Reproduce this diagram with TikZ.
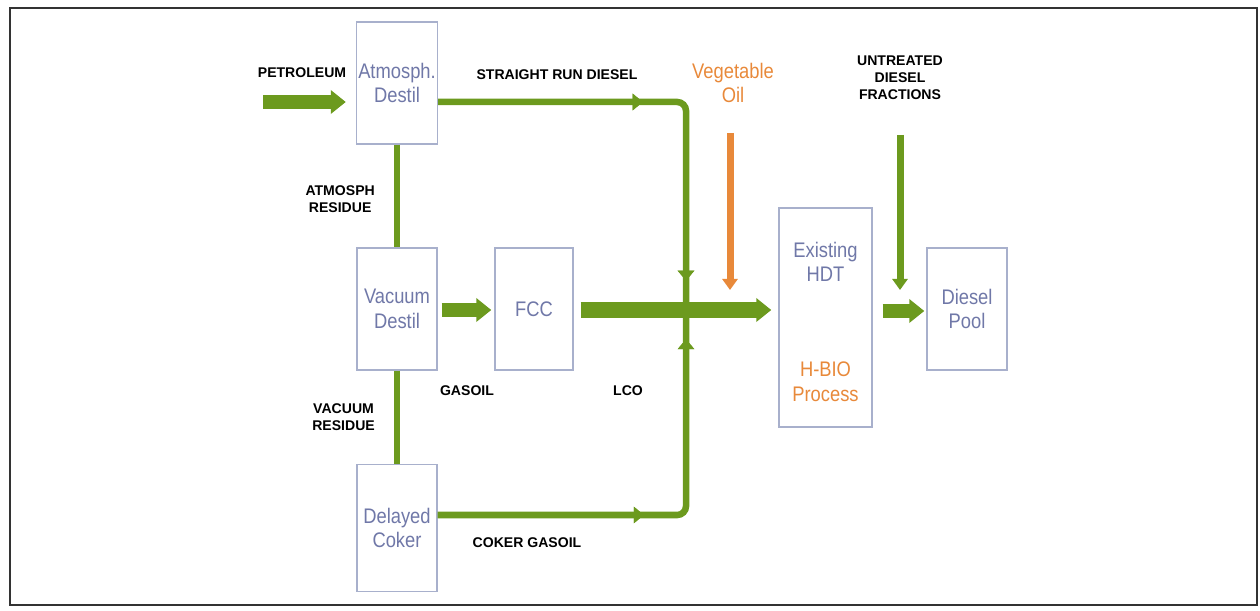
\documentclass[tikz,border=0pt]{standalone}
\usepackage{fontspec}
\setmainfont{Liberation Sans}
\newfontfamily\boxfont[FakeStretch=0.87]{Liberation Sans}
\usepackage{tikz}
\usetikzlibrary{arrows.meta,positioning,calc,decorations.markings}
\definecolor{pipegreen}{RGB}{108,154,30}
\definecolor{bioorange}{RGB}{232,137,58}
\definecolor{unitblue}{RGB}{112,120,168}
\definecolor{unitedge}{RGB}{168,176,204}

\begin{document}
\begin{tikzpicture}[
  unit/.style={draw=unitedge, line width=0.8pt, fill=white,
               minimum width=1.6cm, minimum height=2.44cm,
               inner xsep=1pt, align=center, text=unitblue,
               font=\boxfont\fontsize{12}{14}\selectfont},
  tag/.style={font=\bfseries\fontsize{8}{9.8}\selectfont, align=center},
  fat/.style={pipegreen, line width=0.28cm,
              -{Triangle[length=0.3cm,width=0.46cm]}},
  pipe/.style={pipegreen, line width=0.13cm, rounded corners=5pt},
  midarrow/.style={postaction={decorate}, decoration={markings,
      mark=at position #1 with {\arrow{Triangle[length=0.2cm,width=0.32cm]}}}},
  feed/.style={line width=0.14cm,
               -{Triangle[length=0.22cm,width=0.3cm]}},
]
\useasboundingbox (0,0) rectangle (25.2,-12.22);

%% Frame
\draw[gray!40!black, line width=1.6pt] (0.2,-0.16) rectangle (25.14,-12.1);

%% Process units
\node[unit] (atm)   at (7.94,-1.66)  {Atmosph.\\Destil};
\node[unit] (vac)   at (7.94,-6.18)  {Vacuum\\Destil};
\node[unit, minimum height=2.54cm] (coker) at (7.94,-10.56) {Delayed\\Coker};
\node[unit, minimum width=1.56cm] (fcc) at (10.68,-6.18) {FCC};
\node[unit, minimum width=1.86cm, minimum height=4.38cm] (hdt) at (16.51,-6.35) {};
\node[unit] (hdtT) at (16.51,-5.24) [draw=none, fill=none] {Existing\\HDT};
\node[unit, text=bioorange] (hdtB) at (16.51,-7.64) [draw=none, fill=none] {H-BIO\\Process};
\node[unit] (pool)  at (19.34,-6.18) {Diesel\\Pool};

%% Junction points
\coordinate (jtop)  at (13.72,-2.04);
\coordinate (jmain) at (13.72,-6.2);
\coordinate (jbot)  at (13.72,-10.3);
\coordinate (petin) at (5.26,-2.04);
\coordinate (vegin) at (14.6,-2.66);
\coordinate (untin) at (18.0,-2.7);

%% Residue lines
\draw[pipe] (atm.south) -- (vac.north);
\draw[pipe] (vac.south) -- (coker.north);

%% Side streams into the LCO line
\draw[pipe, midarrow=0.45, midarrow=0.93] (atm.east |- jtop) -- (jtop) -- (jbot |- 0,-6.25);
\draw[pipe, midarrow=0.456, midarrow=0.93] (coker.east |- jbot) -- (jbot) -- (jbot |- 0,-6.15);

%% Main flows
\draw[fat, shorten >=0.2cm] (petin) -- (petin -| atm.west);
\draw[fat, shorten <=0.08cm, shorten >=0.06cm] (vac.east |- 0,-6.2) -- (fcc.west |- 0,-6.2);
\draw[fat, line width=0.31cm, shorten <=0.14cm, shorten >=0.14cm] (fcc.east |- jmain) -- (hdt.west |- jmain);
\draw[fat, shorten <=0.2cm, shorten >=0.04cm] (hdt.east |- 0,-6.22) -- (pool.west |- 0,-6.22);

%% Feeds from above
\draw[feed, bioorange] (vegin) -- (vegin |- 0,-5.8);
\draw[feed, pipegreen] (untin) -- (untin |- 0,-5.8);

%% Stream labels
\node[tag] (lpet) at (6.04,-1.46)  {PETROLEUM};
\node[tag] (lsrd) at (11.14,-1.5)  {STRAIGHT RUN DIESEL};
\node[tag, anchor=east] (lar) at (7.62,-3.98) {ATMOSPH\\RESIDUE};
\node[tag, anchor=east] (lvr) at (7.62,-8.34) {VACUUM\\RESIDUE};
\node[tag] (lgo)  at (9.34,-7.82)  {GASOIL};
\node[tag] (llco) at (12.56,-7.82) {LCO};
\node[tag] (lcg)  at (10.54,-10.86) {COKER GASOIL};
\node[tag] (lud)  at (18.0,-1.56)  {UNTREATED\\DIESEL\\FRACTIONS};
\node[align=center, text=bioorange, font=\boxfont\fontsize{12}{14}\selectfont]
  (lveg) at (14.66,-1.66) {Vegetable\\Oil};

\end{tikzpicture}
\end{document}
